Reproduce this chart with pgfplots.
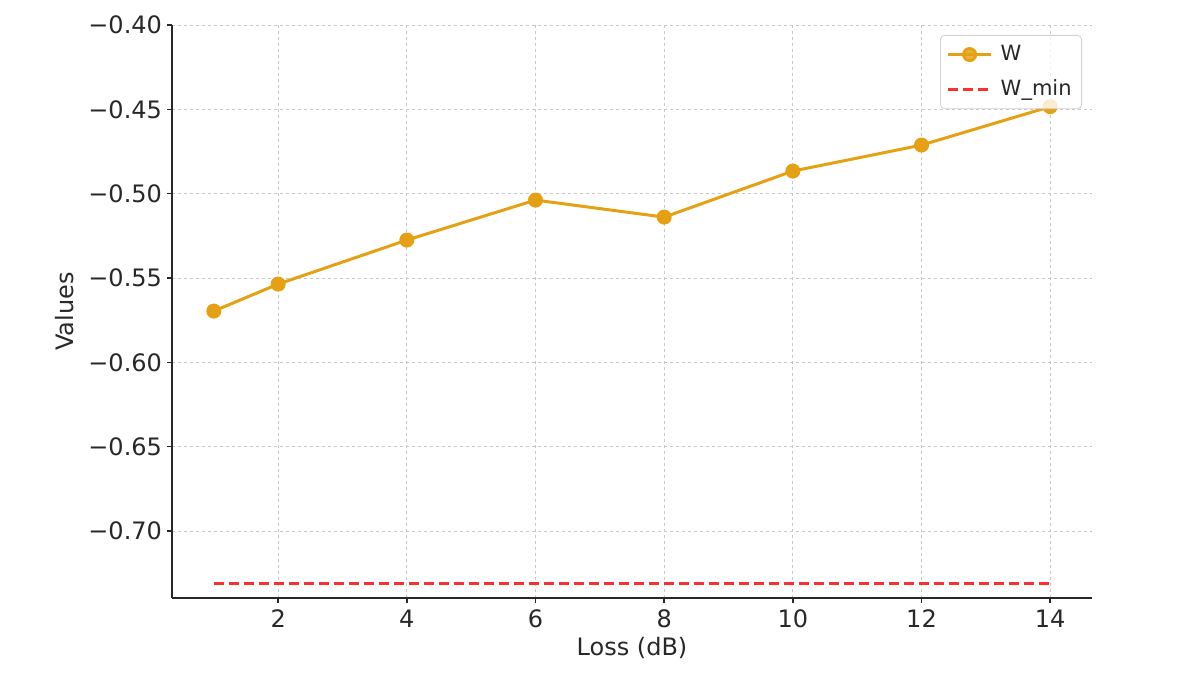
\documentclass[border=0pt]{standalone}
\usepackage{pgfplots}
\pgfplotsset{compat=1.18}
\usepackage{fontspec}
\setmainfont{DejaVu Sans}
\definecolor{worange}{RGB}{230,160,20}
\definecolor{wred}{RGB}{255,45,45}
\definecolor{gridgray}{RGB}{200,200,200}
\definecolor{axisgray}{RGB}{40,40,40}
\begin{document}
\begin{tikzpicture}
\begin{axis}[
  at={(0pt,0pt)}, anchor=south west,
  scale only axis, width=460pt, height=286.5pt,
  xmin=0.35, xmax=14.65, ymin=-0.7397, ymax=-0.40,
  xtick={2,4,6,8,10,12,14},
  ytick={-0.70,-0.65,-0.60,-0.55,-0.50,-0.45,-0.40},
  yticklabels={−0.70,−0.65,−0.60,−0.55,−0.50,−0.45,−0.40},
  /pgf/number format/assume math mode=true,
  axis x line*=bottom, axis y line*=left,
  axis line style={axisgray, line width=0.8pt},
  tick align=outside, major tick length=2.5pt,
  tick style={axisgray, line width=0.7pt},
  grid=major,
  grid style={gridgray, line width=0.4pt, dash pattern=on 1.5pt off 1.5pt},
  tick label style={font=\fontsize{12}{14}\selectfont, text=axisgray},
  yticklabel style={xshift=1pt},
  label style={font=\fontsize{12}{14}\selectfont, text=axisgray},
  xlabel={Loss (dB)}, ylabel={Values},
  xlabel style={at={(axis description cs:0.5,0)}, anchor=center, yshift=-25pt},
  ylabel style={at={(axis description cs:-0.1163,0.5)}, anchor=center},
  legend style={at={(rel axis cs:1,1)}, anchor=north east, xshift=-5pt, yshift=-5pt,
    draw=gray!35, rounded corners=2pt, fill=white, fill opacity=0.8, text opacity=1,
    font=\fontsize{10.5}{12.5}\selectfont, text=axisgray, inner sep=3pt, row sep=4pt,
    column sep=2pt},
  legend cell align=left,
  legend image code/.code={\draw[mark repeat=2,mark phase=2] plot coordinates {(0cm,0cm)(0.38cm,0cm)(0.76cm,0cm)};},
]
\addplot[worange, line width=1.5pt, mark=*, mark size=3pt, mark options={solid, fill=worange}]
coordinates {(1,-0.5696) (2,-0.5536) (4,-0.5275) (6,-0.5038) (8,-0.5139) (10,-0.4866) (12,-0.4712) (14,-0.4484)};
\addlegendentry{W}
\addplot[wred, line width=1.5pt, dash pattern=on 5pt off 2.5pt]
coordinates {(1,-0.731) (14,-0.731)};
\addlegendentry{W\_min}
\end{axis}
\pgfresetboundingbox
\path (-86pt,-41pt) rectangle (506pt,299pt);
\end{tikzpicture}
\end{document}
